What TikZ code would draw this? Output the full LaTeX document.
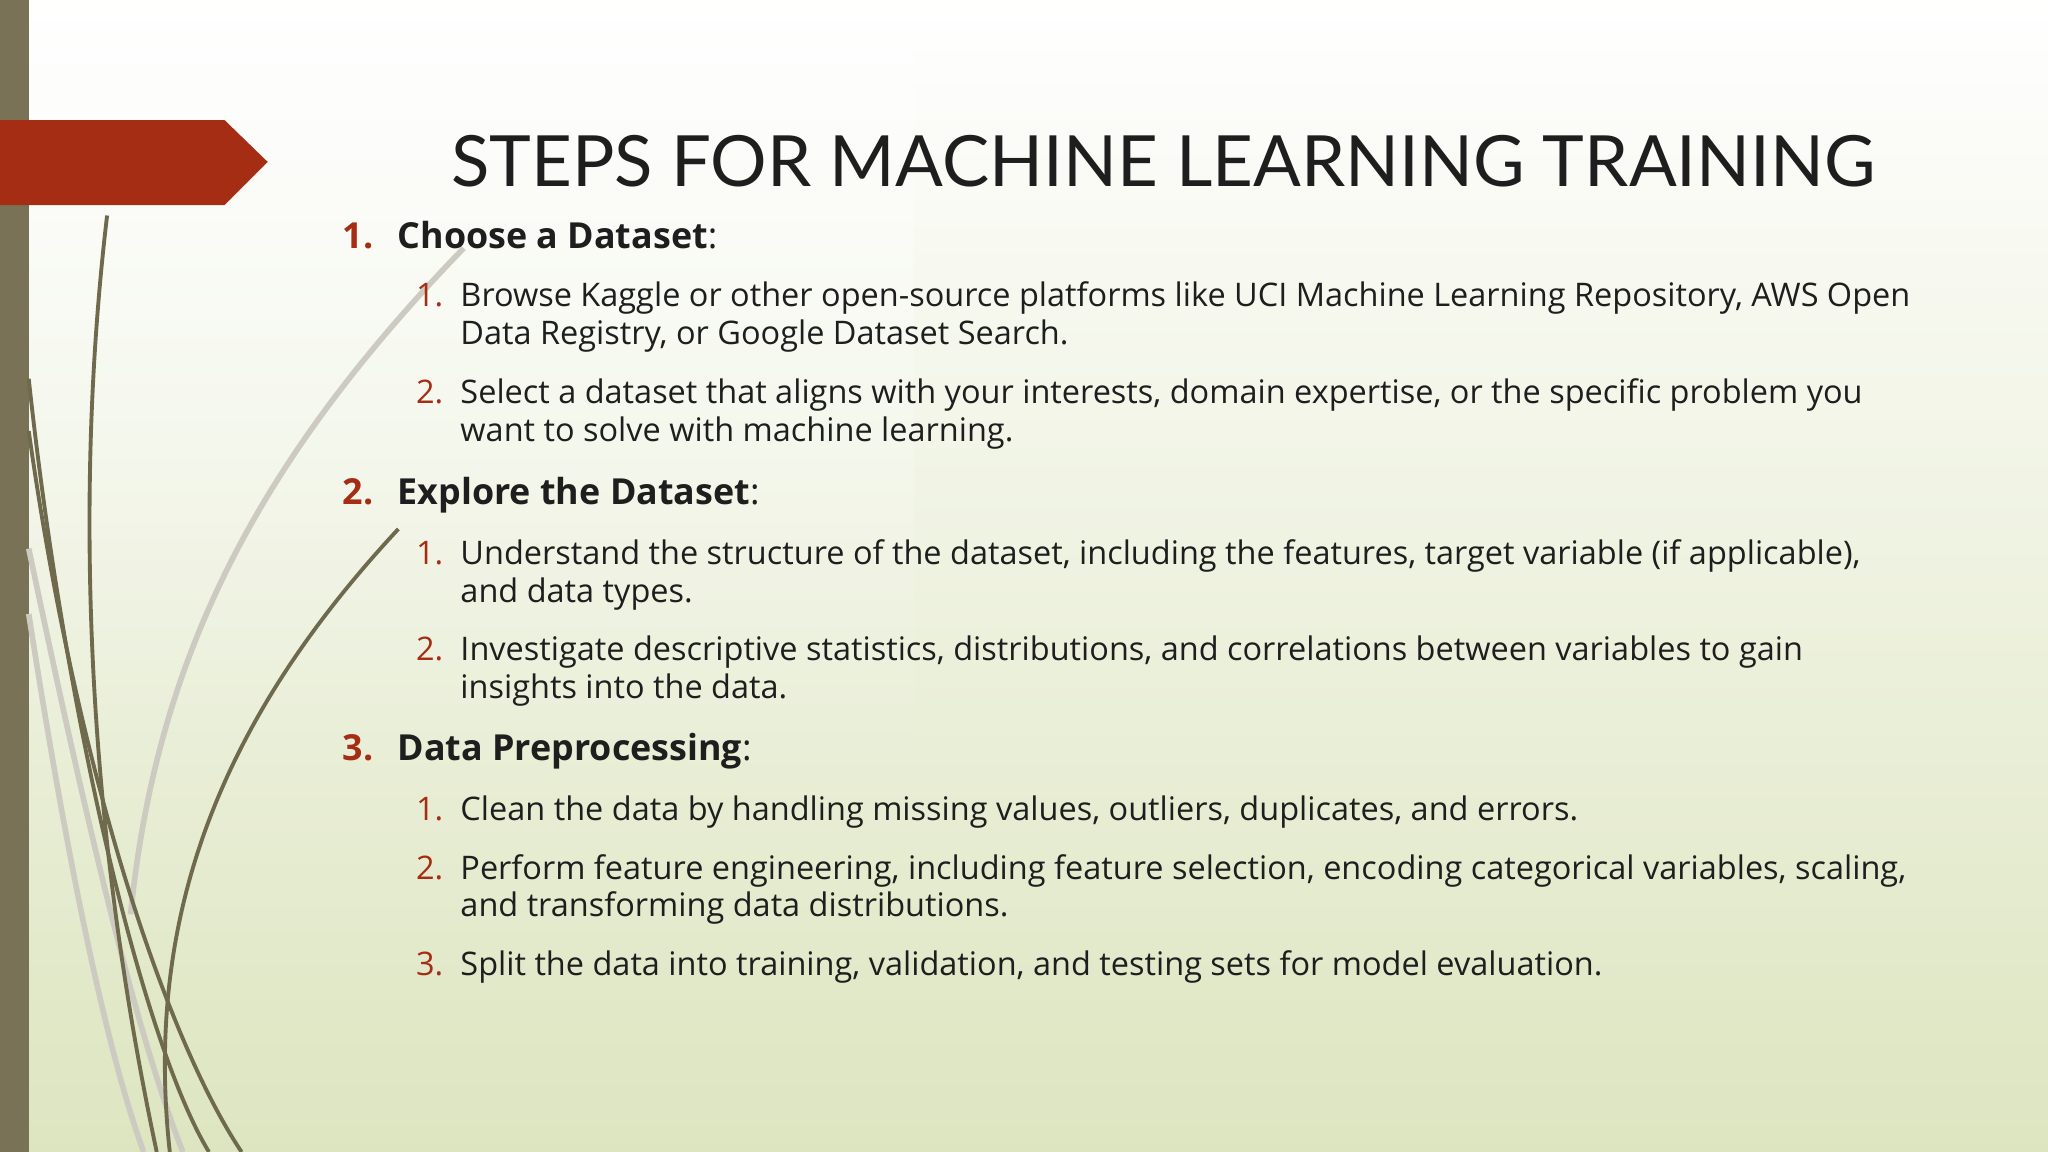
\documentclass[tikz,border=0pt]{standalone}
\usepackage{fontspec}
\usetikzlibrary{fadings}
\setmainfont{Open Sans}
\newfontfamily\titlefont{Lato}
\definecolor{bgA}{HTML}{FFFFFF}
\definecolor{bgB}{HTML}{DDE5C0}
\definecolor{barc}{HTML}{7A7256}
\definecolor{redc}{HTML}{A52D14}
\definecolor{olive}{HTML}{6F6A4E}
\definecolor{txt}{HTML}{1E1E1E}
\tikzset{
 head/.style={anchor=base west,font=\fontsize{10.2}{12}\selectfont\bfseries,text=txt,inner sep=0},
 hnum/.style={anchor=base west,font=\fontsize{10.2}{12}\selectfont\bfseries,text=redc,inner sep=0},
 body/.style={anchor=base west,font=\fontsize{9.24}{11}\selectfont,text=txt,inner sep=0},
 bnum/.style={anchor=base west,font=\fontsize{9.24}{11}\selectfont,text=redc,inner sep=0},
 curve/.style={olive,line width=1.1pt},
 lcurve/.style={olive!35,line width=1.6pt}
}
\begin{document}
\begin{tikzpicture}[x=0.013061cm,y=-0.013061cm]
\useasboundingbox (0,0) rectangle (1568,882);
\shade[left color=bgA,right color=bgB,shading angle=0] (0,0) rectangle (1568,882);
\fill[white,opacity=0.5,path fading=south] (0,0) rectangle (700,600);
\fill[barc] (0,0) rectangle (22,882);
% curves
\draw[lcurve] (22,420) .. controls (60,600) and (100,780) .. (140,882);
\draw[lcurve] (22,470) .. controls (50,650) and (80,800) .. (110,882);
\draw[lcurve] (355,190) .. controls (200,350) and (120,500) .. (100,700);
\draw[curve] (82,165) .. controls (60,350) and (60,600) .. (120,882);
\draw[curve] (22,290) .. controls (50,550) and (110,800) .. (160,882);
\draw[curve] (22,330) .. controls (60,600) and (130,800) .. (185,882);
\draw[curve] (305,405) .. controls (170,550) and (110,700) .. (130,882);
% arrow
\fill[redc] (0,92) -- (172,92) -- (205,124) -- (172,157) -- (0,157) -- cycle;
\node[anchor=base west,inner sep=0,text=txt] (title) at (345,143) {\resizebox{14.24cm}{!}{\titlefont\fontsize{20}{24}\selectfont STEPS FOR MACHINE LEARNING TRAINING}};
\node[hnum] (n1) at (262,190) {1.};
\node[head] (h1) at (304,190) {Choose a Dataset\mdseries:};
\node[bnum] (n11) at (318,235) {1.};
\node[body] (t11a) at (352,235) {Browse Kaggle or other open-source platforms like UCI Machine Learning Repository, AWS Open};
\node[body] (t11b) at (352,264) {Data Registry, or Google Dataset Search.};
\node[bnum] (n12) at (318,309) {2.};
\node[body] (t12a) at (352,309) {Select a dataset that aligns with your interests, domain expertise, or the specific problem you};
\node[body] (t12b) at (352,338) {want to solve with machine learning.};
\node[hnum] (n2) at (262,386) {2.};
\node[head] (h2) at (304,386) {Explore the Dataset\mdseries:};
\node[bnum] (n21) at (318,432) {1.};
\node[body] (t21a) at (352,432) {Understand the structure of the dataset, including the features, target variable (if applicable),};
\node[body] (t21b) at (352,461) {and data types.};
\node[bnum] (n22) at (318,506) {2.};
\node[body] (t22a) at (352,506) {Investigate descriptive statistics, distributions, and correlations between variables to gain};
\node[body] (t22b) at (352,535) {insights into the data.};
\node[hnum] (n3) at (262,582) {3.};
\node[head] (h3) at (304,582) {Data Preprocessing\mdseries:};
\node[bnum] (n31) at (318,628) {1.};
\node[body] (t31) at (352,628) {Clean the data by handling missing values, outliers, duplicates, and errors.};
\node[bnum] (n32) at (318,673) {2.};
\node[body] (t32a) at (352,673) {Perform feature engineering, including feature selection, encoding categorical variables, scaling,};
\node[body] (t32b) at (352,702) {and transforming data distributions.};
\node[bnum] (n33) at (318,747) {3.};
\node[body] (t33) at (352,747) {Split the data into training, validation, and testing sets for model evaluation.};
\end{tikzpicture}
\end{document}
